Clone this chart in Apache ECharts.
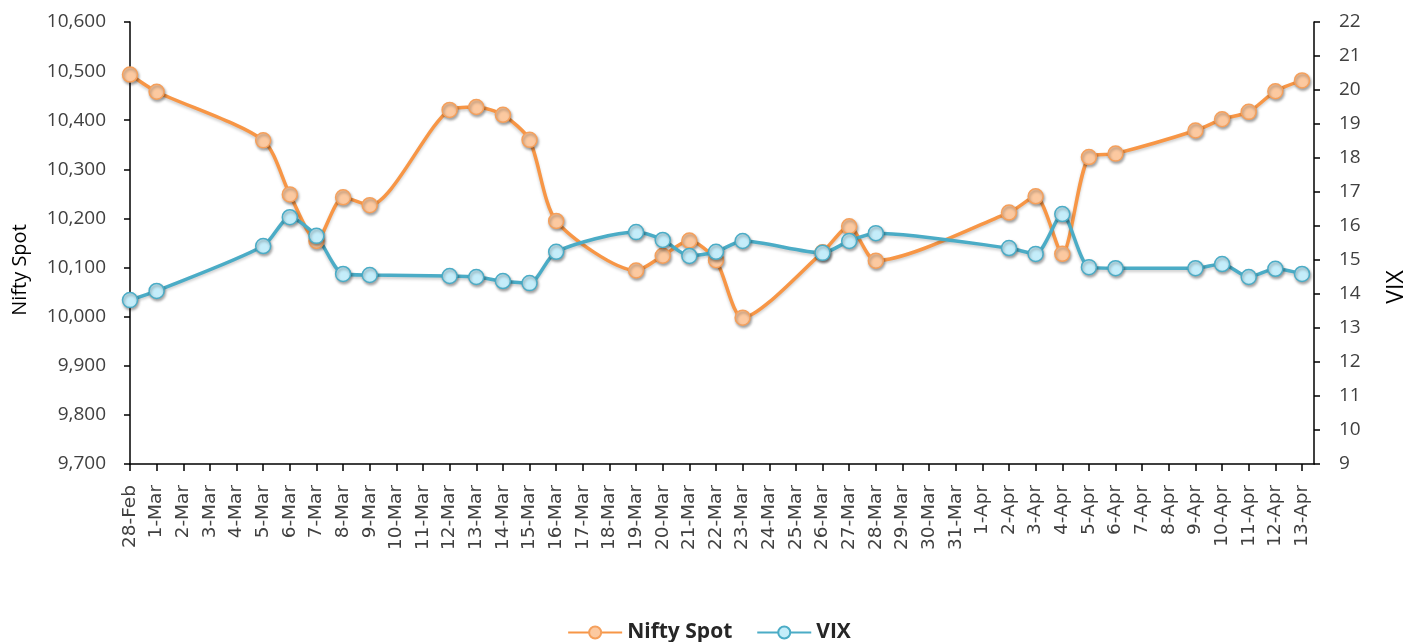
<!DOCTYPE html>
<html>
<head>
<meta charset="utf-8">
<script src="https://cdn.jsdelivr.net/npm/echarts@6/dist/echarts.min.js"></script>
<style>
  html, body { margin: 0; padding: 0; background: #fff; }
  #chart { width: 1418px; height: 642px; }
</style>
</head>
<body>
<div id="chart"></div>
<script>
// every calendar day on the axis, 28-Feb to 13-Apr
const dayLabels = [
  "28-Feb", "1-Mar", "2-Mar", "3-Mar", "4-Mar", "5-Mar", "6-Mar", "7-Mar", "8-Mar", "9-Mar",
  "10-Mar", "11-Mar", "12-Mar", "13-Mar", "14-Mar", "15-Mar", "16-Mar", "17-Mar", "18-Mar",
  "19-Mar", "20-Mar", "21-Mar", "22-Mar", "23-Mar", "24-Mar", "25-Mar", "26-Mar", "27-Mar",
  "28-Mar", "29-Mar", "30-Mar", "31-Mar", "1-Apr", "2-Apr", "3-Apr", "4-Apr", "5-Apr",
  "6-Apr", "7-Apr", "8-Apr", "9-Apr", "10-Apr", "11-Apr", "12-Apr", "13-Apr",
];

// trading days that have a value
const tradingDays = [
  "28-Feb", "1-Mar", "5-Mar", "6-Mar", "7-Mar", "8-Mar", "9-Mar", "12-Mar", "13-Mar",
  "14-Mar", "15-Mar", "16-Mar", "19-Mar", "20-Mar", "21-Mar", "22-Mar", "23-Mar",
  "26-Mar", "27-Mar", "28-Mar", "2-Apr", "3-Apr", "4-Apr", "5-Apr", "6-Apr", "9-Apr",
  "10-Apr", "11-Apr", "12-Apr", "13-Apr",
];

const niftySpot = [
  10493, 10458, 10359, 10249, 10154, 10243, 10227, 10421, 10427, 10411, 10360, 10195,
  10094, 10124, 10155, 10115, 9998, 10131, 10184, 10114, 10212, 10245, 10128, 10325,
  10332, 10379, 10402, 10417, 10459, 10481,
];

const vix = [
  13.82, 14.09, 15.41, 16.26, 15.71, 14.59, 14.56, 14.53, 14.5, 14.38, 14.32, 15.24,
  15.82, 15.59, 15.12, 15.24, 15.56, 15.21, 15.56, 15.79, 15.35, 15.18, 16.35, 14.79,
  14.76, 14.76, 14.88, 14.5, 14.74, 14.59,
];

const dayIndex = tradingDays.map((d) => dayLabels.indexOf(d));
const dayTicks = dayLabels.map((_, i) => i);

const axisText = "#404040";
const axisFont = "'Open Sans', 'Noto Sans', sans-serif";

const chart = echarts.init(document.getElementById("chart"));

const markerShadow = {
  shadowBlur: 3,
  shadowColor: "rgba(0,0,0,0.35)",
  shadowOffsetX: 1,
  shadowOffsetY: 2,
};
const lineShadow = {
  shadowBlur: 3,
  shadowColor: "rgba(0,0,0,0.2)",
  shadowOffsetY: 2,
};

chart.setOption({
  animation: false,
  grid: { left: 130, right: 104, top: 22, bottom: 178 },
  legend: {
    top: 617,
    left: "center",
    itemWidth: 54,
    itemHeight: 15,
    itemGap: 24,
    textStyle: {
      fontFamily: axisFont,
      fontWeight: "bold",
      fontSize: 21,
      color: "#262626",
    },
    data: ["Nifty Spot", "VIX"],
  },
  // axis titles sit a little below the middle of the plot, as in the original
  graphic: [
    {
      type: "text",
      x: 20,
      y: 270,
      rotation: Math.PI / 2,
      style: {
        text: "Nifty Spot",
        fontFamily: axisFont,
        fontSize: 20,
        fill: "#000",
        align: "center",
        verticalAlign: "middle",
      },
    },
    {
      type: "text",
      x: 1396,
      y: 287,
      rotation: Math.PI / 2,
      style: {
        text: "VIX",
        fontFamily: axisFont,
        fontSize: 23,
        fill: "#000",
        align: "center",
        verticalAlign: "middle",
      },
    },
  ],
  xAxis: {
    type: "value",
    min: 0,
    max: 44.45,
    splitLine: { show: false },
    axisLine: { show: true, lineStyle: { color: "#000", width: 1.5 } },
    axisTick: {
      show: true,
      length: 7,
      customValues: dayTicks,
      lineStyle: { color: "#000", width: 1.5 },
    },
    axisLabel: {
      customValues: dayTicks,
      rotate: 90,
      margin: 21,
      color: axisText,
      fontFamily: "'DejaVu Sans', sans-serif",
      fontSize: 18.5,
      formatter: (v) => dayLabels[Math.round(v)] || "",
    },
  },
  yAxis: [
    {
      type: "value",
      min: 9700,
      max: 10600,
      interval: 100,
      splitLine: { show: false },
      axisLine: { show: true, lineStyle: { color: "#000", width: 1.5 } },
      axisTick: { show: true, length: 6, lineStyle: { color: "#000", width: 1.5 } },
      axisLabel: {
        margin: 24,
        color: axisText,
        fontFamily: axisFont,
        fontSize: 19,
        formatter: (v) => v.toLocaleString("en-US"),
      },
    },
    {
      type: "value",
      min: 9,
      max: 22,
      interval: 1,
      splitLine: { show: false },
      axisLine: { show: true, lineStyle: { color: "#000", width: 1.5 } },
      axisTick: { show: true, length: 6, lineStyle: { color: "#000", width: 1.5 } },
      axisLabel: {
        margin: 25,
        color: axisText,
        fontFamily: axisFont,
        fontSize: 19,
      },
    },
  ],
  series: [
    {
      name: "Nifty Spot",
      type: "line",
      yAxisIndex: 0,
      smooth: 0.25,
      symbol: "circle",
      symbolSize: 15,
      data: dayIndex.map((d, i) => [d, niftySpot[i]]),
      lineStyle: { color: "#F79646", width: 3.5, ...lineShadow },
      itemStyle: {
        color: "#FCC9A0",
        borderColor: "#F5A05C",
        borderWidth: 1.5,
        ...markerShadow,
      },
    },
    {
      name: "VIX",
      type: "line",
      yAxisIndex: 1,
      smooth: 0.25,
      symbol: "circle",
      symbolSize: 15,
      data: dayIndex.map((d, i) => [d, vix[i]]),
      lineStyle: { color: "#4BACC6", width: 3.5, ...lineShadow },
      itemStyle: {
        color: "#C4EDFA",
        borderColor: "#4BACC6",
        borderWidth: 1.5,
        ...markerShadow,
      },
    },
  ],
});
</script>
</body>
</html>
